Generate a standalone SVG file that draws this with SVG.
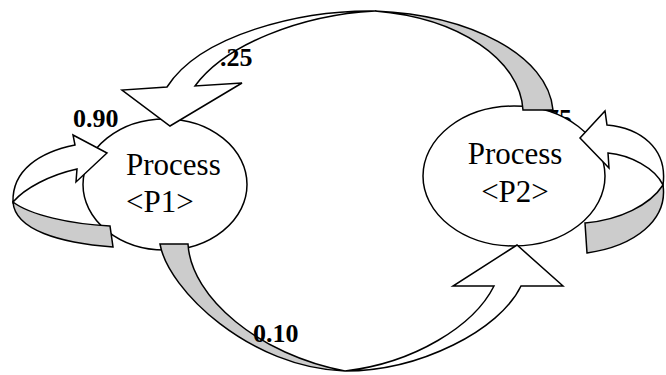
<svg xmlns="http://www.w3.org/2000/svg" width="666" height="375" viewBox="0 0 666 375">
<style>
.node{fill:#ffffff;stroke:#000000;stroke-width:1.5}
.face{fill:#ffffff;stroke:#000000;stroke-width:1.5;stroke-linejoin:miter}
.back{fill:#cccccc;stroke:#000000;stroke-width:1.5;stroke-linejoin:miter}
.t{font-family:"Liberation Serif","Times New Roman",serif;font-size:31px;fill:#000000}
.lbl{font-family:"Liberation Serif","Times New Roman",serif;font-size:26px;font-weight:bold;fill:#000000}
</style>
<rect width="666" height="375" fill="#ffffff"/>
<g id="hidden-label">
<text class="lbl" x="546" y="127">75</text>
</g>
<g id="P1">
<ellipse class="node" cx="165" cy="184.5" rx="82" ry="65.5"/>
<text class="t" x="126" y="175">Process</text>
<text class="t" x="126" y="212">&lt;P1&gt;</text>
</g>
<g id="P2">
<ellipse class="node" cx="514" cy="176" rx="91" ry="70"/>
<text class="t" x="515" y="164" text-anchor="middle">Process</text>
<text class="t" x="515" y="202" text-anchor="middle">&lt;P2&gt;</text>
</g>
<g id="connectors">
<g id="P2-P1">
<path class="back" d="M375,11 C470,15 548,55 553,110 L523,110 C520,60 460,18 375,11 Z"/>
<path class="face" d="M375,11 C300,10 200,35 167,87 L122,90 L170,126 L242,83 L195,86 C225,45 300,15 375,11 Z"/>
</g>
<g id="P1-P2">
<path class="back" d="M160,244 L188,244 C191,298 260,355 345,371 C250,368 168,290 160,244 Z"/>
<path class="face" d="M345,371 C420,371 500,330 521,286 L563,286 L517,245 L453,286 L494,286 C474,326 414,363 345,371 Z"/>
</g>
<g id="P1-P1">
<path class="back" d="M13,202 C30,215 70,224 110,226 L113,247 C60,243 15,230 13,202 Z"/>
<path class="face" d="M13,202 C12,170 40,152 75,145 L73,135 L107,153 L76,182 L77,169 C50,175 25,188 13,202 Z"/>
</g>
<g id="P2-P2">
<path class="back" d="M663,185 C650,205 620,220 585,223 L587,253 C635,246 668,220 663,185 Z"/>
<path class="face" d="M663,185 C668,148 640,128 607,125 L605,111 L580,138 L609,168 L608,153 C630,155 655,168 663,185 Z"/>
</g>
</g>
<g id="labels">
<text class="lbl" x="73" y="127">0.90</text>
<text class="lbl" x="220" y="66">.25</text>
<text class="lbl" x="253" y="342">0.10</text>
</g>
</svg>
